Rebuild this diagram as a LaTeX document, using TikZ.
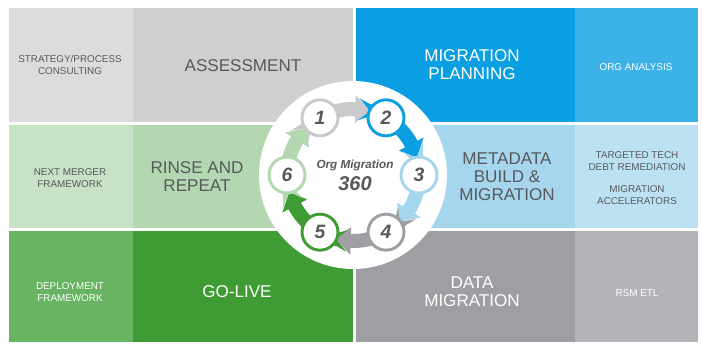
\documentclass[tikz,border=0pt]{standalone}
\usepackage{fontspec}
\setmainfont{Liberation Sans}
\usepackage{tikz}

\definecolor{txtgray}{HTML}{58595B}
\definecolor{graylt}{HTML}{DCDCDC}
\definecolor{graymd}{HTML}{CFCFCF}
\definecolor{bluedk}{HTML}{0A9FE2}
\definecolor{bluemd}{HTML}{3DB2E8}
\definecolor{greenlt}{HTML}{C8E2C6}
\definecolor{greenmd}{HTML}{B3D7B1}
\definecolor{bluelt}{HTML}{A6D5EE}
\definecolor{bluepale}{HTML}{BCE1F3}
\definecolor{greensb}{HTML}{69B463}
\definecolor{greendk}{HTML}{3F9C35}
\definecolor{slatedk}{HTML}{9D9FA2}
\definecolor{slatelt}{HTML}{B2B4B7}
\definecolor{arrowgray}{HTML}{C9CACB}

% ring arrow round the centre: #1 colour, #2 angle of the circle it leaves
\newcommand{\ringarrow}[2]{%
  \fill[#1] (#2-25:77) -- (#2-15:66) -- (#2-25:55) -- (#2-17:59)
    arc[start angle=#2-17, end angle=#2+32, radius=59]
    -- (#2+32:52) -- (#2+45:66) -- (#2+32:80) -- (#2+32:73)
    arc[start angle=#2+32, end angle=#2-17, radius=73] -- cycle;}

\begin{document}
\begin{tikzpicture}[x=0.75pt,y=0.75pt,yscale=-1,xscale=1,
  bigtext/.style={align=center,inner sep=0pt,font=\fontsize{12.8}{13.5}\selectfont},
  smalltext/.style={align=center,inner sep=0pt,font=\fontsize{7.4}{8.4}\selectfont},
  stepnum/.style={circle,fill=white,line width=2.2pt,minimum size=27pt,inner sep=0pt,
    text=txtgray,font=\fontsize{14.5}{15}\selectfont\bfseries\itshape}]
\useasboundingbox (0,0) rectangle (702,343);

%Shape: Rectangle
\fill[graylt] (9,8) rectangle (133,122);
\fill[graymd] (133,8) rectangle (353,122);
\fill[bluedk] (356,8) rectangle (575,122);
\fill[bluemd] (575,8) rectangle (698,122);
%Shape: Rectangle
\fill[greenlt] (9,125) rectangle (133,228);
\fill[greenmd] (133,125) rectangle (353,228);
\fill[bluelt] (356,125) rectangle (575,228);
\fill[bluepale] (575,125) rectangle (698,228);
%Shape: Rectangle
\fill[greensb] (9,231) rectangle (133,342);
\fill[greendk] (133,231) rectangle (353,342);
\fill[slatedk] (356,231) rectangle (575,342);
\fill[slatelt] (575,231) rectangle (698,342);

% Text Node
\node[smalltext,text=txtgray] (strat) at (70,65) {STRATEGY/PROCESS\\CONSULTING};
\node[bigtext,text=txtgray] (assess) at (243,66) {ASSESSMENT};
\node[bigtext,text=white] (plan) at (472,65) {MIGRATION\\PLANNING};
\node[smalltext,text=white] (orga) at (636,67) {ORG ANALYSIS};
% Text Node
\node[smalltext,text=txtgray] (merger) at (70,178) {NEXT MERGER\\FRAMEWORK};
\node[bigtext,text=txtgray] (rinse) at (197,177) {RINSE AND\\REPEAT};
\node[bigtext,text=txtgray] (meta) at (507,177) {METADATA\\BUILD \&\\MIGRATION};
\node[smalltext,text=txtgray] (debt) at (637,161) {TARGETED TECH\\DEBT REMEDIATION};
\node[smalltext,text=txtgray] (accel) at (637,195) {MIGRATION\\ACCELERATORS};
% Text Node
\node[smalltext,text=white] (deploy) at (70,292) {DEPLOYMENT\\FRAMEWORK};
\node[bigtext,text=white] (golive) at (237,292) {GO-LIVE};
\node[bigtext,text=white] (datam) at (472,292) {DATA\\MIGRATION};
\node[smalltext,text=white] (rsm) at (637,293) {RSM ETL};

%Shape: Circle
\fill[white] (353,175) circle (94);

\begin{scope}[shift={(353,175)}]
\ringarrow{arrowgray}{240}
\ringarrow{bluedk}{300}
\ringarrow{bluelt}{360}
\ringarrow{slatedk}{60}
\ringarrow{greendk}{120}
\ringarrow{greenmd}{180}

\node[stepnum,draw=arrowgray] (s1) at (240:66) {1};
\node[stepnum,draw=bluedk] (s2) at (300:66) {2};
\node[stepnum,draw=bluelt] (s3) at (0:66) {3};
\node[stepnum,draw=slatedk] (s4) at (60:66) {4};
\node[stepnum,draw=greendk] (s5) at (120:66) {5};
\node[stepnum,draw=greenmd] (s6) at (180:66) {6};
\end{scope}

% Text Node
\node[inner sep=0pt,text=txtgray,font=\fontsize{8.8}{9}\selectfont\bfseries\itshape] (orgmig) at (355,165) {Org Migration};
\node[inner sep=0pt,text=txtgray,font=\fontsize{15}{16}\selectfont\bfseries\itshape] (three) at (355,184) {360};

\end{tikzpicture}
\end{document}
